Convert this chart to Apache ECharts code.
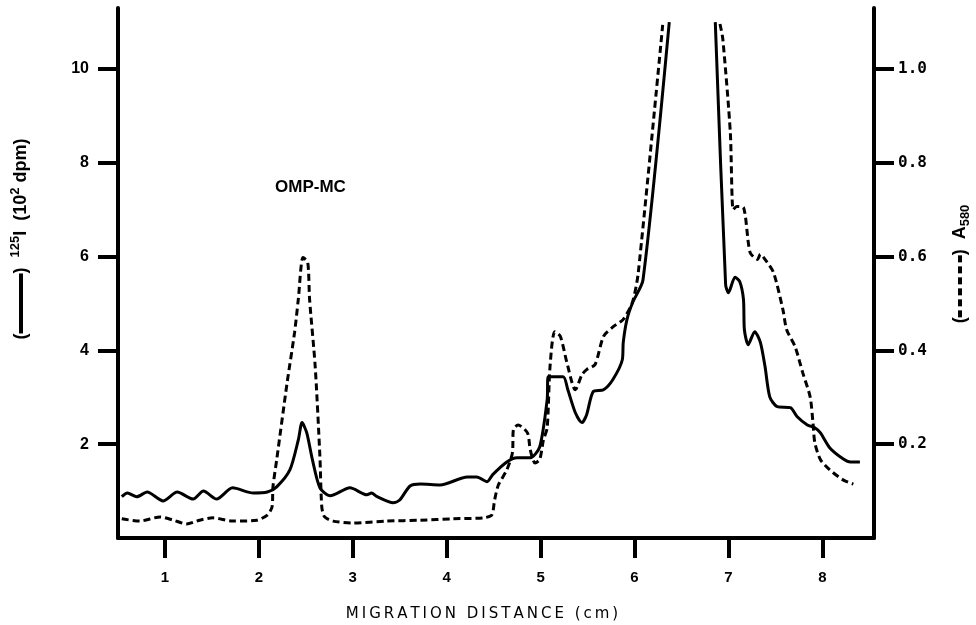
<!DOCTYPE html>
<html lang="en">
<head>
<meta charset="utf-8">
<title>OMP-MC migration profile</title>
<script src="https://cdn.jsdelivr.net/npm/echarts@6/dist/echarts.min.js"></script>
<style>
	html, body { margin: 0; padding: 0; background: #fff; }
	#chart { width: 976px; height: 625px; }
</style>
</head>
<body>
<div id="chart"></div>
<script>
// 125I counts (10^2 dpm), solid line, left axis (null = off scale, line broken)
var iodineX = [0.54, 0.60, 0.70, 0.81, 0.98, 1.13, 1.30, 1.41, 1.55, 1.72, 1.94, 2.09, 2.19, 2.33, 2.42, 2.46, 2.51, 2.57, 2.65, 2.76,
	2.97, 3.15, 3.20, 3.26, 3.43, 3.50, 3.61, 3.72, 3.93, 4.22, 4.32, 4.43, 4.49, 4.64, 4.75, 4.89, 4.99, 5.07, 5.08, 5.24,
	5.29, 5.37, 5.44, 5.49, 5.56, 5.67, 5.77, 5.87, 5.88, 5.92, 5.98, 6.09, 6.37, 6.60,
	6.86, 6.97, 7.00, 7.07, 7.12, 7.16, 7.17, 7.21, 7.28, 7.34, 7.39, 7.44, 7.52, 7.66, 7.73, 7.84, 7.92, 7.98, 8.08, 8.22, 8.30, 8.40];
var iodineY = [0.88, 0.96, 0.88, 0.98, 0.79, 0.98, 0.83, 1.00, 0.83, 1.07, 0.96, 0.98, 1.09, 1.45, 2.09, 2.46, 2.24, 1.67, 1.07, 0.90,
	1.07, 0.92, 0.96, 0.88, 0.75, 0.81, 1.11, 1.15, 1.13, 1.30, 1.30, 1.20, 1.35, 1.62, 1.71, 1.71, 1.94, 2.95, 3.44, 3.44,
	3.16, 2.67, 2.46, 2.63, 3.12, 3.16, 3.38, 3.80, 4.17, 4.66, 5.02, 5.50, 11.0, null,
	11.0, 5.40, 5.23, 5.56, 5.47, 5.09, 4.44, 4.12, 4.40, 4.17, 3.65, 3.01, 2.80, 2.78, 2.59, 2.41, 2.35, 2.24, 1.92, 1.69, 1.62, 1.62];

// A580, dashed line, right axis
var absX = [0.54, 0.73, 0.95, 1.09, 1.23, 1.37, 1.51, 1.72, 1.98, 2.09, 2.14, 2.15, 2.19, 2.30, 2.38, 2.42, 2.47, 2.52, 2.54, 2.60,
	2.65, 2.67, 2.70, 2.79, 3.00, 3.36, 3.72, 4.07, 4.39, 4.48, 4.51, 4.55, 4.64, 4.70, 4.71, 4.76, 4.86, 4.89, 4.94, 4.99,
	5.03, 5.07, 5.10, 5.15, 5.21, 5.28, 5.37, 5.44, 5.49, 5.58, 5.67, 5.77, 5.88, 5.98, 6.04, 6.30, 6.60,
	6.91, 6.94, 7.02, 7.05, 7.09, 7.16, 7.23, 7.31, 7.34, 7.39, 7.48, 7.58, 7.62, 7.71, 7.79, 7.87, 7.90, 7.92, 7.98, 8.08, 8.22, 8.33];
var absY = [0.041, 0.036, 0.045, 0.038, 0.030, 0.038, 0.043, 0.036, 0.038, 0.049, 0.066, 0.109, 0.167, 0.330, 0.438, 0.509, 0.598, 0.588, 0.509, 0.365,
	0.173, 0.066, 0.045, 0.036, 0.032, 0.036, 0.038, 0.041, 0.043, 0.049, 0.081, 0.113, 0.145, 0.182, 0.231, 0.241, 0.224, 0.188, 0.160, 0.167,
	0.209, 0.235, 0.365, 0.440, 0.430, 0.374, 0.316, 0.348, 0.359, 0.370, 0.430, 0.450, 0.466, 0.504, 0.566, 1.094, null,
	1.096, 1.064, 0.865, 0.700, 0.707, 0.705, 0.609, 0.594, 0.605, 0.594, 0.566, 0.487, 0.444, 0.408, 0.353, 0.301, 0.246, 0.203, 0.167, 0.145, 0.124, 0.115];

var xTicks = [1, 2, 3, 4, 5, 6, 7, 8];
var leftTicks = [2, 4, 6, 8, 10];
var rightTicks = [0.2, 0.4, 0.6, 0.8, 1.0];

function pairs(xs, ys) {
	var out = [];
	for (var i = 0; i < xs.length; i++) {
		out.push([xs[i], ys[i] === null ? '-' : ys[i]]);
	}
	return out;
}

// spread letters a little, like the typed caption
function spaced(s) {
	return s.split('').join('\u2009');
}

var axisLine = { show: true, lineStyle: { color: '#000', width: 4 } };
var axisTick = { show: true, inside: false, length: 20, lineStyle: { color: '#000', width: 4 } };

var nameRich = {
	n: { fontFamily: 'Liberation Sans', fontWeight: 'bold', fontSize: 18, lineHeight: 24, verticalAlign: 'middle', fill: '#000' },
	sup: { fontFamily: 'Liberation Sans', fontWeight: 'bold', fontSize: 13, lineHeight: 13, verticalAlign: 'top', fill: '#000' },
	sub: { fontFamily: 'Liberation Sans', fontWeight: 'bold', fontSize: 13, lineHeight: 13, verticalAlign: 'bottom', fill: '#000' },
	bar: { width: 60, height: 4, backgroundColor: '#000', verticalAlign: 'middle' },
	d: { width: 7, height: 4, backgroundColor: '#000', verticalAlign: 'middle' },
	g: { width: 4, height: 4, verticalAlign: 'middle' }
};

var chart = echarts.init(document.getElementById('chart'));
chart.setOption({
	animation: false,
	backgroundColor: '#fff',
	grid: { left: 118, right: 102, top: 8, bottom: 87, containLabel: false, outerBoundsMode: 'none' },
	xAxis: {
		type: 'value',
		min: 0.5,
		max: 8.55,
		name: spaced('MIGRATION DISTANCE (cm)'),
		nameLocation: 'middle',
		nameGap: 69,
		nameTextStyle: { fontFamily: 'DejaVu Sans', fontSize: 15, color: '#000', padding: [0, 28, 0, 0] },
		axisLine: axisLine,
		axisTick: Object.assign({ customValues: xTicks }, axisTick),
		axisLabel: { customValues: xTicks, margin: 32, color: '#000', fontFamily: 'Liberation Sans', fontWeight: 'bold', fontSize: 15 },
		splitLine: { show: false }
	},
	yAxis: [
		{
			type: 'value',
			position: 'left',
			min: 0,
			max: 11.3,
			axisLine: axisLine,
			axisTick: Object.assign({ customValues: leftTicks }, axisTick),
			axisLabel: { customValues: leftTicks, margin: 29, color: '#000', fontFamily: 'Liberation Sans', fontWeight: 'bold', fontSize: 16 },
			splitLine: { show: false }
		},
		{
			type: 'value',
			position: 'right',
			min: 0,
			max: 1.13,
			axisLine: axisLine,
			axisTick: Object.assign({ customValues: rightTicks }, axisTick),
			axisLabel: {
				customValues: rightTicks, margin: 24, color: '#000',
				fontFamily: 'DejaVu Sans Mono', fontWeight: 'bold', fontSize: 16,
				formatter: function (v) { return v.toFixed(1); }
			},
			splitLine: { show: false }
		}
	],
	series: [
		{
			name: '125I',
			type: 'line',
			yAxisIndex: 0,
			data: pairs(iodineX, iodineY),
			showSymbol: false,
			connectNulls: false,
			smooth: 0.25,
			lineStyle: { color: '#000', width: 3 }
		},
		{
			name: 'A580',
			type: 'line',
			yAxisIndex: 1,
			data: pairs(absX, absY),
			showSymbol: false,
			connectNulls: false,
			smooth: 0.25,
			lineStyle: { color: '#000', width: 3, type: [7, 4] }
		}
	],
	graphic: [
		{
			type: 'text',
			x: 21, y: 239,
			rotation: Math.PI / 2,
			style: {
				text: '{n|(}{bar| }{n|)  }{sup|125}{n|I  (10}{sup|2}{n| dpm)}',
				rich: nameRich,
				align: 'center',
				verticalAlign: 'middle'
			}
		},
		{
			type: 'text',
			x: 960, y: 264,
			rotation: Math.PI / 2,
			style: {
				text: '{n|(}{d| }{g| }{d| }{g| }{d| }{g| }{d| }{g| }{d| }{g| }{d| }{n|)  A}{sub|580}',
				rich: nameRich,
				align: 'center',
				verticalAlign: 'middle'
			}
		},
		{
			type: 'text',
			x: 275, y: 187,
			style: {
				text: 'OMP-MC',
				font: 'bold 17px "Liberation Sans"',
				fill: '#000',
				verticalAlign: 'middle'
			}
		}
	]
});
</script>
</body>
</html>
